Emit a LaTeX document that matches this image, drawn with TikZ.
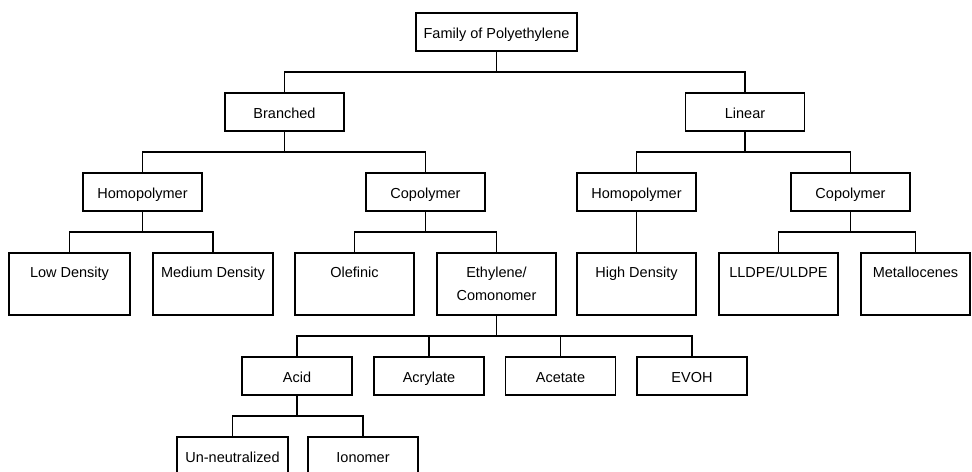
\documentclass[tikz,border=0pt]{standalone}
\usepackage{fontspec}
\setmainfont{Liberation Sans}
\usetikzlibrary{calc}

\tikzset{
  box/.style={draw, line width=0.7pt, inner sep=0pt, minimum width=119\unitpx,
    minimum height=38\unitpx, text height=0.72em, text depth=0pt,
    font=\fontsize{8.25}{10}\selectfont},
  smallbox/.style={box, minimum width=110\unitpx},
  tallbox/.style={box, text height=24\unitpx, text depth=38\unitpx},
  branch/.style={line width=0.7pt,
    to path={(\tikztostart) |- ($(\tikztostart)!0.5!(\tikztotarget)$) -| (\tikztotarget)}}
}
\newlength{\unitpx}
\setlength{\unitpx}{0.02cm}

\begin{document}
\begin{tikzpicture}[x=0.02cm, y=-0.02cm]
        \useasboundingbox (0,0) rectangle (972,471);
        \clip (0,0) rectangle (972,471);

        % Root
        \node[box, minimum width=161\unitpx] (fam) at (496.5,32) {Family of Polyethylene};

        % Second level
        \node[box] (branched) at (284.5,112) {Branched};
        \node[box] (linear) at (745,112) {Linear};

        % Branched side
        \node[box] (bhomo) at (142.5,192) {Homopolymer};
        \node[box] (bcopo) at (425.5,192) {Copolymer};
        \node[tallbox, minimum width=121\unitpx] (lowd) at (69.5,284) {Low Density};
        \node[tallbox, minimum width=120\unitpx] (medd) at (213,284) {Medium Density};
        \node[tallbox] (olef) at (354.5,284) {Olefinic};
        \node[tallbox] (ethco) at (496.5,284)
          {\begin{tabular}[t]{@{}c@{}}Ethylene/\\[3.6pt]Comonomer\end{tabular}};

        % Linear side
        \node[box] (lhomo) at (636.5,192) {Homopolymer};
        \node[box] (lcopo) at (850.5,192) {Copolymer};
        \node[tallbox] (highd) at (636.5,284) {High Density};
        \node[tallbox] (lldpe) at (778.5,284) {LLDPE/ULDPE};
        \node[tallbox, minimum width=109\unitpx] (metal) at (915.5,284) {Metallocenes};

        % Comonomer types
        \node[smallbox] (acid) at (297,376) {Acid};
        \node[smallbox] (acryl) at (429,376) {Acrylate};
        \node[smallbox] (acet) at (560.5,376) {Acetate};
        \node[smallbox] (evoh) at (692,376) {EVOH};

        % Acid types
        \node[smallbox, minimum width=111\unitpx] (unneut) at (232.5,456) {Un-neutralized};
        \node[smallbox] (ionom) at (363,456) {Ionomer};

        % Tree connectors
        \draw[branch] (fam.south) to (branched.north);
        \draw[branch] (fam.south) to (linear.north);
        \draw[branch] (branched.south) to (bhomo.north);
        \draw[branch] (branched.south) to (bcopo.north);
        \draw[branch] (bhomo.south) to (lowd.north);
        \draw[branch] (bhomo.south) to (medd.north);
        \draw[branch] (bcopo.south) to (olef.north);
        \draw[branch] (bcopo.south) to (ethco.north);
        \draw[branch] (linear.south) to (lhomo.north);
        \draw[branch] (linear.south) to (lcopo.north);
        \draw[branch] (lhomo.south) to (highd.north);
        \draw[branch] (lcopo.south) to (lldpe.north);
        \draw[branch] (lcopo.south) to (metal.north);
        \draw[branch] (ethco.south) to (acid.north);
        \draw[branch] (ethco.south) to (acryl.north);
        \draw[branch] (ethco.south) to (acet.north);
        \draw[branch] (ethco.south) to (evoh.north);
        \draw[branch] (acid.south) to (unneut.north);
        \draw[branch] (acid.south) to (ionom.north);
    \end{tikzpicture}
\end{document}
